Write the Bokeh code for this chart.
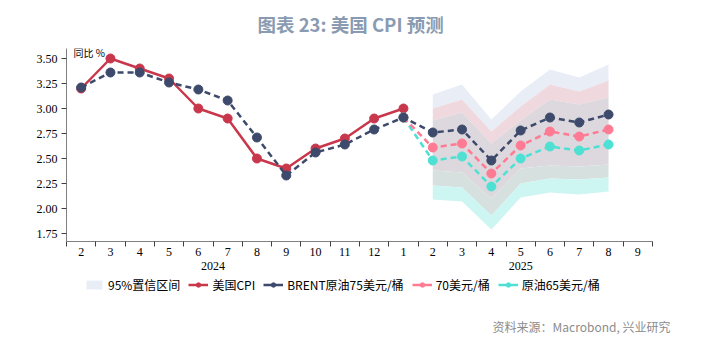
from bokeh.plotting import figure
from bokeh.layouts import column
from bokeh.models import (FixedTicker, LinearAxis, Range1d, Legend, LegendItem, Label)
from bokeh.embed import file_html
from bokeh.resources import INLINE

# ---------------- data ----------------
months = ["2", "3", "4", "5", "6", "7", "8", "9", "10", "11", "12",
          "1", "2", "3", "4", "5", "6", "7", "8", "9"]
years = ["2024", "2025"]

cpi = [3.2, 3.5, 3.4, 3.3, 3.0, 2.9, 2.5, 2.4, 2.6, 2.7, 2.9, 3.0]
brent75 = [3.21, 3.36, 3.36, 3.26, 3.19, 3.08, 2.71, 2.33, 2.56, 2.64, 2.79,
           2.91, 2.76, 2.79, 2.48, 2.78, 2.91, 2.86, 2.94]
oil70 = [2.91, 2.61, 2.65, 2.35, 2.63, 2.77, 2.72, 2.79]     # Jan..Aug 2025
oil65 = [2.91, 2.48, 2.52, 2.22, 2.50, 2.62, 2.58, 2.64]     # Jan..Aug 2025

# 95% confidence bands, Feb..Aug 2025
b75_upper = [3.14, 3.24, 2.89, 3.17, 3.39, 3.31, 3.44]
b75_lower = [2.38, 2.36, 2.10, 2.40, 2.43, 2.42, 2.44]
b70_upper = [3.00, 3.09, 2.77, 3.02, 3.24, 3.17, 3.28]
b70_lower = [2.23, 2.21, 1.93, 2.25, 2.30, 2.29, 2.31]
b65_upper = [2.88, 2.96, 2.65, 2.88, 3.09, 3.04, 3.11]
b65_lower = [2.09, 2.07, 1.79, 2.11, 2.16, 2.14, 2.17]

yticks = [1.75, 2.00, 2.25, 2.50, 2.75, 3.00, 3.25, 3.50]

legend_labels = ["95%置信区间", "美国CPI", "BRENT原油75美元/桶", "70美元/桶", "原油65美元/桶"]

# ---------------- styles ----------------
RED = "#C8374B"
NAVY = "#3D4A6B"
PINK = "#FF7A93"
CYAN = "#4FE0D4"
BAND_COLORS = ["#E9EEF6", "#EFD9DF", "#DDD8DD", "#D6E1DF", "#CDF5F2"]
SERIF = "Liberation Serif"
CJK = "Noto Sans CJK SC"

idx_all = list(range(len(months)))
idx_cpi = idx_all[:len(cpi)]
idx_b75 = idx_all[:len(brent75)]
idx_fc = idx_all[11:11 + len(oil70)]
idx_band = idx_all[12:12 + len(b75_upper)]

p = figure(width=703, height=276, output_backend="svg", toolbar_location=None,
           x_range=Range1d(-0.5, 19.5), y_range=Range1d(1.67, 3.60),
           min_border_left=66, min_border_right=51, min_border_top=45,
           min_border_bottom=35)
p.frame_align = False
p.xgrid.visible = False
p.ygrid.visible = False
p.outline_line_color = None
p.background_fill_color = "white"
p.border_fill_color = "white"

p.title.text = "图表 23: 美国 CPI 预测"
p.title.align = "left"
p.title.offset = 191
p.title.vertical_align = "top"
p.title.text_font = CJK
p.title.text_font_size = "18.5px"
p.title.text_font_style = "bold"
p.title.text_color = "#8A9BB1"
p.title.standoff = 20

# bands as overlapping regions
edges = [b75_upper, b70_upper, b65_upper, b75_lower, b70_lower, b65_lower]
for k in range(5):
    p.varea(x=idx_band, y1=edges[k + 1], y2=edges[k], fill_color=BAND_COLORS[k])

# CPI
p.line(idx_cpi, cpi, line_color=RED, line_width=2.5)
p.scatter(idx_cpi, cpi, size=9, fill_color=RED, line_color=RED)

# scenarios
for xs, ys, col in [(idx_fc, oil65, CYAN), (idx_fc, oil70, PINK), (idx_b75, brent75, NAVY)]:
    p.line(xs, ys, line_color=col, line_width=2.5, line_dash="6 4")
    p.scatter(xs, ys, size=9, fill_color=col, line_color=col)

# ---------------- axes ----------------
ya = p.yaxis[0]
ya.ticker = FixedTicker(ticks=yticks)
ya.major_label_overrides = {t: f"{t:.2f}" for t in yticks}
ya.axis_line_color = "#808080"
ya.major_tick_line_color = "#404040"
ya.major_tick_out = 5
ya.major_tick_in = 0
ya.minor_tick_line_color = None
ya.major_label_text_font = SERIF
ya.major_label_text_font_size = "12px"
ya.major_label_text_color = "black"
ya.major_label_standoff = 4

xa = p.xaxis[0]
xa.ticker = FixedTicker(ticks=idx_all, minor_ticks=[i - 0.5 for i in range(len(months) + 1)])
xa.major_label_overrides = {i: m for i, m in enumerate(months)}
xa.axis_line_color = "#808080"
xa.major_tick_line_color = None
xa.major_tick_out = 0
xa.major_tick_in = 0
xa.minor_tick_line_color = "#404040"
xa.minor_tick_out = 5
xa.minor_tick_in = 0
xa.major_label_text_font = SERIF
xa.major_label_text_font_size = "12px"
xa.major_label_text_color = "black"
xa.major_label_standoff = 1

year_pos = [4.5, 15.0]
ax2 = LinearAxis(ticker=FixedTicker(ticks=year_pos),
                 major_label_overrides={year_pos[0]: years[0], year_pos[1]: years[1]},
                 axis_line_color=None, major_tick_line_color=None,
                 minor_tick_line_color=None, major_tick_out=0, major_tick_in=0,
                 major_label_standoff=3, major_label_text_font=SERIF,
                 major_label_text_font_size="12px", major_label_text_color="black")
p.add_layout(ax2, "below")

p.add_layout(Label(x=7, y=189, x_units="screen", y_units="screen", text="同比 %",
                   text_font=CJK, text_font_size="10px", text_color="black",
                   text_baseline="middle"))

# ---------------- legend + source strip ----------------
q = figure(width=703, height=63, output_backend="svg", toolbar_location=None,
           x_range=Range1d(0, 703), y_range=Range1d(0, 63),
           x_axis_type=None, y_axis_type=None,
           min_border_left=0, min_border_right=0, min_border_top=0, min_border_bottom=0)
q.frame_align = False
q.xgrid.visible = False
q.ygrid.visible = False
q.outline_line_color = None
q.background_fill_color = "white"
q.border_fill_color = "white"

# legend proxies (placed outside the visible range)
proxy_band = q.varea(x=[-10, -9], y1=[-10, -10], y2=[-9, -9], fill_color=BAND_COLORS[0])
proxies = [[proxy_band]]
for col in [RED, NAVY, PINK, CYAN]:
    l = q.line([-10, -9], [-10, -10], line_color=col, line_width=2.5)
    s = q.scatter([-10], [-10], size=8, fill_color=col, line_color=col)
    proxies.append([l, s])

items = [LegendItem(label=lab, renderers=r) for lab, r in zip(legend_labels, proxies)]
legend = Legend(items=items, orientation="horizontal", location=(84, 46),
                glyph_width=20, glyph_height=11, label_standoff=4, spacing=8,
                padding=0, margin=0, border_line_color=None,
                background_fill_alpha=0, label_text_font=CJK,
                label_text_font_size="12px", label_text_color="black")
q.add_layout(legend, "center")

q.add_layout(Label(x=670, y=13, x_units="screen", y_units="screen",
                   text="资料来源：Macrobond, 兴业研究", text_font=CJK,
                   text_font_size="12px", text_color="#8C8C8C",
                   text_align="right", text_baseline="middle"))

layout = column(p, q, spacing=0)
open("out.html", "w").write(file_html(layout, INLINE))
